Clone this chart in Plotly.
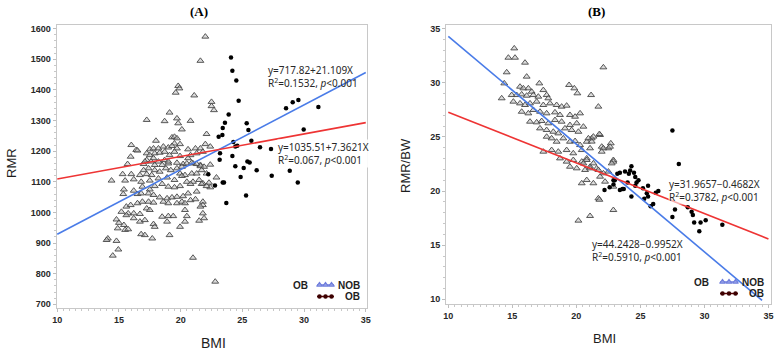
import plotly.graph_objects as go

# ---------------- data ----------------
# Panel A: RMR vs BMI, non-obese (triangles)
a_nob_bmi = [22.0, 21.6, 19.8, 19.9, 19.6, 21.1, 22.5, 22.5, 22.7, 19.1, 17.25, 18.7, 19.7, 19.8, 20.8,
             20.1, 22.1, 19.3, 19.5, 19.7, 18.0, 19.5, 19.95, 16.0, 16.4, 16.5, 17.5, 17.8, 18.2, 18.6,
             19.0, 19.3, 19.7, 20.6, 21.2, 21.6, 22.0, 22.4, 15.95, 17.25, 17.5, 17.9, 18.3, 18.7, 19.1,
             19.5, 19.95, 20.8, 21.3, 21.8, 17.25, 17.8, 18.2, 18.7, 20.6, 17.0, 18.5, 19.0, 19.7, 20.2,
             21.0, 21.6,
             15.7, 17.1, 17.6, 17.9, 19.0, 19.7, 20.1, 20.5, 20.9, 21.3, 21.6, 21.9, 22.4, 17.0, 17.4,
             17.9, 18.3, 18.8, 19.2, 19.95, 20.35, 20.9, 21.3, 21.7, 22.1,
             15.3, 16.0, 16.7, 17.25, 17.65, 18.2, 18.9, 19.5, 20.1, 20.5, 21.0, 21.5, 21.8, 22.3, 22.9,
             22.4, 15.5, 16.2, 16.8, 17.5, 14.4,
             15.4, 16.2, 16.5, 16.9, 17.5, 17.9, 18.5, 19.0, 19.5, 19.95, 20.8, 21.3, 21.7, 22.1, 15.35,
             16.8, 17.4, 17.8, 18.3, 18.9, 19.3, 19.7, 20.2, 20.6, 20.8, 21.8,
             15.6, 15.95, 16.5, 16.9, 17.4, 17.8, 18.6, 19.0, 19.7, 20.1, 20.35, 21.2, 21.8, 15.2, 15.75,
             16.2, 16.7, 17.25, 17.5, 20.35, 21.6, 21.8, 18.5, 19.0, 19.4, 20.5, 15.6,
             14.8, 15.0, 15.4, 16.2, 16.7, 17.1, 17.8, 17.9, 18.9, 19.95, 20.35, 21.5, 21.9,
             14.9, 15.5, 15.75, 16.8, 17.1, 17.7, 19.1, 14.1, 14.0, 14.8,
             14.95, 14.5, 21.0, 22.8]
a_nob_rmr = [1574, 1495, 1413, 1405, 1391, 1382, 1361, 1347, 1334, 1326, 1302, 1298, 1307, 1291, 1299,
             1271, 1256, 1245, 1247, 1242, 1234, 1225, 1223, 1220, 1204, 1202, 1206, 1209, 1209, 1215,
             1212, 1217, 1209, 1206, 1209, 1209, 1223, 1215, 1182, 1193, 1187, 1193, 1195, 1198, 1187,
             1198, 1184, 1187, 1193, 1198, 1171, 1177, 1166, 1171, 1177, 1158, 1155, 1160, 1162, 1158,
             1160, 1155,
             1158, 1166, 1166, 1155, 1166, 1144, 1149, 1160, 1162, 1158, 1151, 1149, 1156, 1138, 1144,
             1138, 1133, 1144, 1138, 1127, 1122, 1127, 1127, 1138, 1127,
             1125, 1125, 1122, 1125, 1122, 1111, 1114, 1106, 1119, 1100, 1100, 1106, 1095, 1097, 1114,
             1082, 1104, 1108, 1100, 1104, 1104,
             1075, 1071, 1060, 1084, 1075, 1086, 1093, 1084, 1082, 1086, 1093, 1068, 1093, 1086, 1060,
             1062, 1062, 1057, 1049, 1046, 1049, 1051, 1053, 1062, 1040, 1035,
             1019, 1024, 1030, 1035, 1035, 1032, 1035, 1030, 1030, 1035, 1030, 1043, 1024, 1002, 997,
             997, 995, 1013, 1008, 1008, 1019, 997, 986, 988, 988, 988, 991,
             977, 966, 959, 981, 970, 975, 962, 953, 970, 953, 970, 973, 981,
             948, 943, 945, 929, 926, 915, 926, 915, 910, 907,
             879, 859, 852, 774]

# Panel A: obese (dots)
a_ob_bmi = [24.08, 24.19, 24.51, 24.70, 23.89, 23.59, 23.41, 23.38, 23.08, 25.35, 25.49, 25.73, 24.27,
            24.43, 24.59, 26.43, 23.19, 24.19, 23.16, 25.41, 25.59, 24.43, 25.11, 24.86, 26.16, 27.38,
            23.41, 23.51, 22.78, 22.24, 25.30, 23.70, 28.54, 29.08, 29.54, 31.16, 29.97, 28.84, 29.49,
            27.32]
a_ob_rmr = [1506, 1463, 1431, 1365, 1320, 1293, 1276, 1253, 1247, 1291, 1269, 1234, 1230,
            1215, 1218, 1213, 1193, 1184, 1172, 1166, 1163, 1151, 1145, 1116, 1138, 1120,
            1098, 1098, 1088, 1125, 1055, 1031, 1340, 1360, 1367, 1344, 1271, 1136, 1098,
            1207]

# Panel B: RMR/BW vs BMI, non-obese (triangles)
b_nob_bmi = [15.15, 14.69, 15.21, 15.99, 22.11, 14.56, 16.12, 17.11, 19.43, 19.84, 20.08, 21.15, 21.72,
             14.17, 14.37, 15.6, 15.86, 16.25, 16.51,
             14.95, 15.34, 15.73, 16.12, 16.64, 17.03, 17.42, 17.68, 17.81,
             15.08, 15.6, 15.99, 16.38, 16.9, 17.42, 17.94, 18.46, 18.85, 19.24,
             15.73, 16.25, 16.64, 17.16, 17.68, 18.33, 18.72, 19.5, 19.9, 20.29,
             16.38, 16.9, 17.29, 17.81, 18.33, 18.85, 19.5, 20.03, 20.55,
             17.16, 17.68, 18.2, 18.59, 19.11, 19.63, 20.16,
             17.68, 18.07, 18.46, 18.98, 19.5, 19.9, 20.81, 21.2, 21.85, 20.29,
             17.42, 18.07, 18.59, 19.24, 19.76, 20.42, 21.07, 21.98, 22.5,
             18.72, 19.24, 19.76, 20.42, 20.81, 21.33, 22.89,
             19.5, 20.03, 20.68, 21.07, 21.59,
             21.8, 20.94, 21.2, 21.33, 22.69, 22.63, 22.11, 21.98, 22.89, 22.76,
             20.81, 20.55, 21.07, 21.72, 22.11, 21.85, 22.5, 20.81, 21.33, 20.42, 22.24, 22.89,
             21.72, 22.89, 21.07, 20.16, 21.8]
b_nob_rbw = [33.18, 32.32, 32.32, 31.86, 31.43, 30.97, 30.57, 29.95, 29.8, 29.49, 29.03, 28.87, 27.8,
             28.57, 29.95, 29.64, 29.49, 29.49, 29.18,
             28.87, 28.87, 28.93, 28.81, 28.87, 28.72, 29.33, 28.87, 28.57,
             28.26, 28.1, 27.95, 28.1, 28.26, 27.95, 28.1, 27.95, 27.8, 27.89,
             27.33, 27.18, 27.49, 27.33, 27.18, 27.27, 27.03, 27.03, 26.87, 27.18,
             26.41, 26.35, 26.47, 26.26, 26.56, 26.41, 26.1, 26.26, 25.95,
             25.79, 25.64, 25.48, 25.33, 25.79, 25.64, 25.48,
             25.02, 24.87, 24.56, 24.87, 24.56, 24.62, 24.56, 24.87, 25.18, 24.25,
             23.64, 23.79, 23.64, 23.79, 23.49, 23.79, 23.95, 24.1, 23.95,
             23.02, 22.72, 22.87, 22.72, 23.02, 22.56, 22.87,
             22.25, 22.1, 21.95, 22.25, 22.1,
             25.27, 24.87, 24.57, 25.03, 24.41, 24.1, 23.95, 23.64, 22.72, 22.56,
             22.87, 22.56, 22.1, 21.95, 21.64, 21.33, 21.8, 21.02, 20.72, 20.72, 20.87, 20.41,
             19.33, 18.25, 17.7, 17.27, 19.2]

# Panel B: obese (dots)
b_ob_bmi = [27.5, 28.0, 24.3, 24.2, 24.1, 24.5, 23.8, 23.4, 23.2, 22.9, 24.6, 24.85, 25.6, 25.2, 25.5,
            25.6, 26.4, 26.2, 25.8, 26.0, 24.3, 23.6, 23.4, 23.7, 27.7, 27.5, 28.7, 29.0, 29.1, 29.2,
            29.7, 30.1, 29.6, 31.4, 24.6, 24.7, 22.2, 22.6, 22.9, 23.0, 25.3, 24.0]
b_ob_rbw = [25.6, 22.5, 22.3, 21.9, 21.6, 21.7, 21.8, 21.7, 21.6, 21.0, 21.3, 21.0, 20.5, 20.25, 19.8,
            19.5, 20.0, 19.85, 18.6, 18.8, 19.5, 20.2, 20.1, 20.2, 18.3, 17.6, 18.5, 18.1, 17.8, 17.1,
            17.1, 17.3, 16.3, 16.9, 20.5, 20.8, 20.1, 20.35, 20.6, 21.0, 19.3, 20.8]

# regression equations shown on the chart: (intercept, slope)
a_fit_blue = (717.82, 21.109)
a_fit_red = (1035.51, 7.3621)
b_fit_blue = (44.2428, -0.9952)
b_fit_red = (31.9657, -0.4682)
fit_x_a = [10, 35]
fit_x_b_blue = [10, 34.5]
fit_x_b_red = [10, 35]

x_ticks = [10, 15, 20, 25, 30, 35]
a_y_ticks = [700, 800, 900, 1000, 1100, 1200, 1300, 1400, 1500, 1600]
b_y_ticks = [10, 15, 20, 25, 30, 35]

legend_groups = ["OB"]
legend_names = ["NOB", "OB"]

# ---------------- styling ----------------
W, H = 782, 352
BLUE = "rgb(74,124,232)"
RED = "rgb(238,52,52)"
TRI_FILL = "rgba(190,190,190,0.55)"
TRI_LINE = "rgb(70,70,70)"
AX_FONT = "Liberation Sans, Arial, sans-serif"
EQ_FONT = "Noto Sans, Open Sans, sans-serif"
LEG_BLUE = "rgb(110,125,220)"
LEG_RED = "rgb(90,0,0)"


def px(x):
    return x / W


def py(y):
    return 1 - y / H


def line_y(fit, xs):
    return [fit[0] + fit[1] * x for x in xs]


fig = go.Figure()

tri_marker = dict(symbol="triangle-up", size=6, color=TRI_FILL, line=dict(color=TRI_LINE, width=0.9))
dot_marker = dict(symbol="circle", size=4.5, color="black")

# Panel A
fig.add_trace(go.Scatter(x=a_nob_bmi, y=a_nob_rmr, mode="markers", marker=tri_marker,
                         xaxis="x", yaxis="y", showlegend=False))
fig.add_trace(go.Scatter(x=a_ob_bmi, y=a_ob_rmr, mode="markers", marker=dot_marker,
                         xaxis="x", yaxis="y", showlegend=False))
fig.add_trace(go.Scatter(x=fit_x_a, y=line_y(a_fit_blue, fit_x_a), mode="lines",
                         line=dict(color=BLUE, width=1.6), xaxis="x", yaxis="y", showlegend=False))
fig.add_trace(go.Scatter(x=fit_x_a, y=line_y(a_fit_red, fit_x_a), mode="lines",
                         line=dict(color=RED, width=1.6), xaxis="x", yaxis="y", showlegend=False))

# Panel B
fig.add_trace(go.Scatter(x=b_nob_bmi, y=b_nob_rbw, mode="markers", marker=tri_marker,
                         xaxis="x2", yaxis="y2", showlegend=False))
fig.add_trace(go.Scatter(x=b_ob_bmi, y=b_ob_rbw, mode="markers", marker=dot_marker,
                         xaxis="x2", yaxis="y2", showlegend=False))
fig.add_trace(go.Scatter(x=fit_x_b_blue, y=line_y(b_fit_blue, fit_x_b_blue), mode="lines",
                         line=dict(color=BLUE, width=1.6), xaxis="x2", yaxis="y2", showlegend=False))
fig.add_trace(go.Scatter(x=fit_x_b_red, y=line_y(b_fit_red, fit_x_b_red), mode="lines",
                         line=dict(color=RED, width=1.6), xaxis="x2", yaxis="y2", showlegend=False))

# ---- hand-drawn legends (SAS style) on a pixel overlay axis ----
# (title_x_center, row1_y, row2_y, symbol_x0, symbol_x1, text_right)
legend_boxes = [(300.5, 285, 296.5, 317, 334, 362), (701, 282, 293.5, 720, 738, 766)]
for tx, r1, r2, s0, s1, tr in legend_boxes:
    sm = [s0 + 2.5, (s0 + s1) / 2, s1 - 2.5]
    fig.add_trace(go.Scatter(x=[s0, s1], y=[r1, r1], mode="lines", line=dict(color=LEG_BLUE, width=1.5),
                             xaxis="x3", yaxis="y3", showlegend=False, hoverinfo="skip"))
    fig.add_trace(go.Scatter(x=sm, y=[r1] * 3, mode="markers",
                             marker=dict(symbol="triangle-up-open", size=5, color=LEG_BLUE, line=dict(width=1.2)),
                             xaxis="x3", yaxis="y3", showlegend=False, hoverinfo="skip"))
    fig.add_trace(go.Scatter(x=[s0, s1], y=[r2, r2], mode="lines", line=dict(color=LEG_RED, width=1.5),
                             xaxis="x3", yaxis="y3", showlegend=False, hoverinfo="skip"))
    fig.add_trace(go.Scatter(x=sm, y=[r2] * 3, mode="markers",
                             marker=dict(symbol="circle", size=4.5, color="rgb(60,0,0)"),
                             xaxis="x3", yaxis="y3", showlegend=False, hoverinfo="skip"))
    for txt, x, y, anc in ((legend_groups[0], tx, r1, "center"), (legend_names[0], tr, r1, "right"),
                           (legend_names[1], tr, r2, "right")):
        fig.add_annotation(text=f"<b>{txt}</b>", x=px(x), y=py(y), xref="paper", yref="paper",
                           showarrow=False, xanchor=anc, yanchor="middle",
                           font=dict(family=AX_FONT, size=10, color="rgb(30,30,30)"))

axis_common = dict(
    showline=True, linecolor="rgb(200,200,200)", linewidth=1, mirror=True,
    ticks="outside", ticklen=3, tickcolor="rgb(190,190,190)", tickwidth=1,
    showgrid=False, zeroline=False,
    tickfont=dict(family=AX_FONT, size=9, color="rgb(40,40,40)"),
    minor=dict(ticks="outside", ticklen=2, tickcolor="rgb(200,200,200)", showgrid=False),
)


def bold(vals):
    return [f"<b>{v}</b>" for v in vals]


fig.update_layout(
    width=W, height=H,
    margin=dict(l=0, r=0, t=0, b=0, autoexpand=False),
    paper_bgcolor="white", plot_bgcolor="rgba(0,0,0,0)",
    showlegend=False,
    xaxis=dict(domain=[px(56.5), px(367)], range=[9.94, 35.1], tickvals=x_ticks, ticktext=bold(x_ticks),
               anchor="y", minor_dtick=0.5, **axis_common),
    yaxis=dict(domain=[py(308), py(25)], range=[688, 1612], tickvals=a_y_ticks, ticktext=bold(a_y_ticks),
               anchor="x", minor_dtick=20, **axis_common),
    xaxis2=dict(domain=[px(446), px(771)], range=[9.82, 35.2], tickvals=x_ticks, ticktext=bold(x_ticks),
                anchor="y2", minor_dtick=0.5, **axis_common),
    yaxis2=dict(domain=[py(304), py(25)], range=[9.57, 35.34], tickvals=b_y_ticks, ticktext=bold(b_y_ticks),
                anchor="x2", minor_dtick=1, **axis_common),
    xaxis3=dict(domain=[0, 1], range=[0, W], visible=False, anchor="y3", fixedrange=True),
    yaxis3=dict(domain=[0, 1], range=[H, 0], visible=False, anchor="x3", fixedrange=True),
)

annos = [
    dict(text="<b>(A)</b>", x=px(199), y=py(12), font=dict(family="Liberation Serif, Times New Roman, serif", size=13, color="black")),
    dict(text="<b>(B)</b>", x=px(596), y=py(12), font=dict(family="Liberation Serif, Times New Roman, serif", size=13, color="black")),
    dict(text="RMR", x=px(11), y=py(163), textangle=-90, font=dict(family=AX_FONT, size=13, color="rgb(30,30,30)")),
    dict(text="BMI", x=px(213), y=py(343), font=dict(family=AX_FONT, size=14, color="rgb(30,30,30)")),
    dict(text="RMR/BW", x=px(405), y=py(166), textangle=-90, font=dict(family=AX_FONT, size=13, color="rgb(30,30,30)")),
    dict(text="BMI", x=px(604), y=py(338), font=dict(family=AX_FONT, size=13, color="rgb(30,30,30)")),
]
for a in annos:
    a.update(xref="paper", yref="paper", showarrow=False, xanchor="center", yanchor="middle")
    fig.add_annotation(**a)

eqs = [
    ("y=717.82+21.109X<br>R<sup>2</sup>=0.1532, <i>p</i>&lt;0.001", 267, 76, "rgba(255,255,255,0)"),
    ("y=1035.51+7.3621X<br>R<sup>2</sup>=0.067, <i>p</i>&lt;0.001", 277, 153.5, "rgba(255,255,255,0.9)"),
    ("y=31.9657−0.4682X<br>R<sup>2</sup>=0.3782, <i>p</i>&lt;0.001", 668, 190, "rgba(255,255,255,0.6)"),
    ("y=44.2428−0.9952X<br>R<sup>2</sup>=0.5910, <i>p</i>&lt;0.001", 591, 250, "rgba(255,255,255,0.6)"),
]
for txt, x, y, bg in eqs:
    fig.add_annotation(text=txt, x=px(x), y=py(y), xref="paper", yref="paper", showarrow=False,
                       xanchor="left", yanchor="middle", align="left", bgcolor=bg, borderpad=0,
                       font=dict(family=EQ_FONT, size=10, color="rgb(40,40,40)"))

fig.write_html("out.html", config={"displayModeBar": False},
               post_script="document.body.style.margin='0';document.body.style.overflow='hidden';")
